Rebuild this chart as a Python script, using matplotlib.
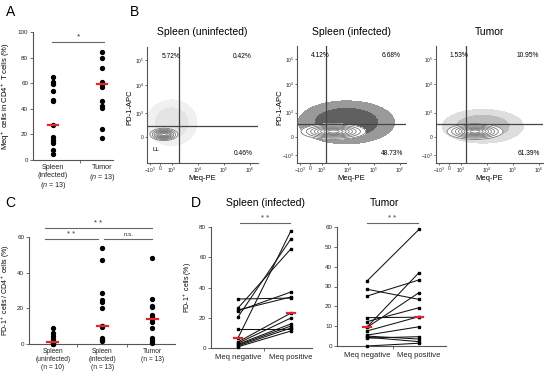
import numpy as np
import matplotlib
matplotlib.use("Agg")
import matplotlib.pyplot as plt

plt.rcParams['font.family'] = ['Liberation Sans', 'DejaVu Sans']
plt.rcParams['mathtext.fontset'] = 'custom'
plt.rcParams['mathtext.rm'] = 'Liberation Sans'
plt.rcParams['mathtext.it'] = 'Liberation Sans:italic'

# ---------------- data ----------------
a_labels = ["Spleen\n(infected)\n($\\it{n}$ = 13)", "Tumor\n($\\it{n}$ = 13)"]
a_spleen = [65, 61, 59, 54, 47, 46, 27, 18, 16, 15, 13, 8, 5]
a_tumor = [84, 80, 72, 61, 60, 59, 59, 57, 46, 42, 41, 24, 17]

flow_titles = ["Spleen (uninfected)", "Spleen (infected)", "Tumor"]
flow_ul = ["5.72%", "4.12%", "1.53%"]
flow_ur = ["0.42%", "6.68%", "10.95%"]
flow_lr = ["0.46%", "48.73%", "61.39%"]
flow_xticklabels = ["$-10^3$", "0", "$10^3$", "$10^4$", "$10^5$", "$10^6$"]
flow_yticklabels = ["$-10^3$", "0", "$10^3$", "$10^4$", "$10^5$"]

c_labels = ["Spleen\n(uninfected)\n(n = 10)", "Spleen\n(infected)\n(n = 13)", "Tumor\n(n = 13)"]
c_uninf = [9, 6, 4.5, 3, 1.2, 1.0, 0.6, 0.4, 0.2, 0]
c_inf = [54, 47, 28.6, 24.7, 23.5, 20.2, 10.3, 10, 9.5, 3.4, 2.5, 2, 1.7]
c_tum = [48, 25.2, 21.5, 20.9, 16.3, 15, 14, 12.5, 8.8, 3.3, 2.2, 1.3, 0.4]

d_labels = ["Meq negative", "Meq positive"]
d_spl_neg = [32.4, 26.4, 25.1, 24.5, 20.5, 12.6, 6.6, 4.0, 3.2, 2.5, 2.0, 1.4, 0.8]
d_spl_pos = [33.0, 65.5, 33.7, 37.0, 72.1, 12.6, 77.4, 23.1, 19.8, 15.9, 14.5, 13.2, 11.2]
d_tum_neg = [32.8, 28.6, 25.2, 14.3, 12.3, 9.6, 9.4, 7.6, 5.5, 5.0, 4.4, 4.0, 0.0]
d_tum_pos = [58.8, 23.5, 33.3, 14.5, 19.3, 37.0, 26.9, 14.8, 9.7, 3.5, 2.2, 4.7, 1.4]

RED = '#e3262b'
SP = '#555555'

W, H = 550, 380
fig = plt.figure(figsize=(5.5, 3.8), dpi=100)


def ax_px(l, r, t, b):
    return fig.add_axes([l / W, 1 - b / H, (r - l) / W, (b - t) / H])


def ftext(x, y, s, **kw):
    fig.text(x / W, 1 - y / H, s, **kw)


def style(ax):
    for s in ['top', 'right']:
        ax.spines[s].set_visible(False)
    for s in ['left', 'bottom']:
        ax.spines[s].set_color(SP)
        ax.spines[s].set_linewidth(0.8)
    ax.tick_params(colors='#222', labelsize=4.5, length=2, width=0.6, color=SP, pad=1.5)


def sig(ax, x0, x1, y, txt, ty, fs=5.5):
    ax.plot([x0, x1], [y, y], color='#666', lw=0.8, clip_on=False)
    ax.text((x0 + x1) / 2, ty, txt, ha='center', va='center', fontsize=fs, color='#333')


# ---------------- panel letters ----------------
ftext(6, 12, "A", fontsize=10, va='center')
ftext(130, 12, "B", fontsize=10, va='center')
ftext(5, 203, "C", fontsize=10, va='center')
ftext(191, 203, "D", fontsize=10, va='center')

# ---------------- panel A ----------------
axA = ax_px(33, 113, 32, 160)
style(axA)
for i, vals in enumerate([a_spleen, a_tumor]):
    axA.plot(np.full(len(vals), i), vals, 'o', color='k', ms=2.8, zorder=3)
    m = np.median(vals)
    axA.plot([i - 0.1, i + 0.1], [m, m], color=RED, lw=1.6, zorder=4)
axA.set_ylim(0, 100)
axA.set_xlim(-0.41, 1.22)
axA.set_yticks([0, 20, 40, 60, 80, 100])
axA.set_xticks([0, 1])
axA.set_xticklabels(a_labels, fontsize=5.2, linespacing=1.15)
axA.tick_params(axis='x', length=0, pad=3)
axA.set_xticks([0.55], minor=True)
axA.tick_params(axis='x', which='minor', length=2, color=SP)
axA.set_ylabel("Meq$^+$ cells in CD4$^+$ T cells (%)", fontsize=5.5, labelpad=4)
sig(axA, -0.02, 1.04, 92, "*", 96.5, fs=6)

# ---------------- panel B (flow) ----------------
flow_boxes = [(147, 258, 47, 163), (297, 406, 46, 163), (436, 543, 46, 163)]
flow_qx = [0.73, 0.62, 0.65]
flow_qy = [0.42, 0.5, 0.5]
# density shape parameters: centre x, centre y, spread x, spread y
flow_core = [(0.15, 0.1, 0.25, 0.11), (0.9, 0.2, 0.58, 0.14), (1.0, 0.2, 0.5, 0.14)]
flow_cloud = [(0.45, 0.55, 0.5, 0.45), (1.4, 0.55, 0.95, 0.42), (1.3, 0.4, 0.8, 0.33)]
flow_cloud_col = [('#f0f0f0', '#e4e4e4'), ('#9a9a9a', '#606060'), ('#dedede', '#bdbdbd')]
ylab_x = [130, 280, None]
xticks_pos = [-0.4, 0.0, 0.46, 1.46, 2.46, 3.46]
yticks_pos = [-0.7, 0.0, 0.92, 2.0, 2.96]

for k in range(3):
    l, r, t, b = flow_boxes[k]
    ax = ax_px(l, r, t, b)
    style(ax)
    xmax = -0.5 + (r - l) / 26.0
    ax.set_xlim(-0.5, xmax)
    ax.set_ylim(-1.0, 3.46)
    gx, gy = np.meshgrid(np.linspace(-0.5, xmax, 300), np.linspace(-1.0, 3.46, 300))
    cx, cy, sx, sy = flow_cloud[k]
    cloud = np.exp(-(((gx - cx) / sx) ** 2 + ((gy - cy) / sy) ** 2) / 2)
    c1, c2 = flow_cloud_col[k]
    ax.contourf(gx, gy, cloud, levels=[0.15, 0.45, 1.01], colors=[c1, c2], zorder=1)
    cx, cy, sx, sy = flow_core[k]
    core = np.exp(-(((gx - cx) / sx) ** 2 + ((gy - cy) / sy) ** 2) / 2)
    ax.contourf(gx, gy, core, levels=[0.1, 1.01], colors=['white'], zorder=2)
    ax.contour(gx, gy, core, levels=[0.1, 0.2, 0.32, 0.45, 0.58, 0.7, 0.82, 0.93],
               colors='#6a6a6a', linewidths=0.55, zorder=3)
    ax.axvline(flow_qx[k], color='#444', lw=0.9, zorder=4)
    ax.axhline(flow_qy[k], color='#444', lw=0.9, zorder=4)
    ax.set_xticks(xticks_pos)
    ax.set_xticklabels(flow_xticklabels, fontsize=3.5)
    if k == 0:
        ax.set_yticks(yticks_pos[1:])
        ax.set_yticklabels(flow_yticklabels[1:], fontsize=3.5)
    else:
        ax.set_yticks(yticks_pos)
        ax.set_yticklabels(flow_yticklabels, fontsize=3.5)
    ax.tick_params(length=1.5, pad=0.8)
    ax.text(0.13, 0.92, flow_ul[k], transform=ax.transAxes, fontsize=4.8, va='center', ha='left', zorder=5)
    ax.text(0.86, 0.92, flow_ur[k], transform=ax.transAxes, fontsize=4.8, va='center', ha='center', zorder=5)
    ax.text(0.87, 0.08, flow_lr[k], transform=ax.transAxes, fontsize=4.8, va='center', ha='center', zorder=5)
    if k == 0:
        ax.text(0.05, 0.12, "LL", transform=ax.transAxes, fontsize=4.5, va='center', ha='left', zorder=5)
    ftext((l + r) / 2, 32, flow_titles[k], fontsize=7.5, ha='center', va='center')
    ftext((l + r) / 2, 179, "Meq-PE", fontsize=5.5, ha='center', va='center')
    if ylab_x[k] is not None:
        ftext(ylab_x[k], 107, "PD-1-APC", fontsize=5.5, ha='center', va='center', rotation=90)

# ---------------- panel C ----------------
axC = ax_px(29, 175, 237, 344)
style(axC)
for i, vals in enumerate([c_uninf, c_inf, c_tum]):
    axC.plot(np.full(len(vals), i), vals, 'o', color='k', ms=2.8, zorder=3, clip_on=False)
    m = np.median(vals)
    axC.plot([i - 0.11, i + 0.11], [m, m], color=RED, lw=1.6, zorder=4, clip_on=False)
axC.set_ylim(0, 60)
axC.set_xlim(-0.48, 2.46)
axC.set_yticks([0, 20, 40, 60])
axC.set_xticks([0, 1, 2])
axC.set_xticklabels(c_labels, fontsize=4.8, linespacing=1.2)
axC.tick_params(axis='x', length=0, pad=3)
axC.set_xticks([0.48, 1.5], minor=True)
axC.tick_params(axis='x', which='minor', length=2, color=SP)
axC.set_ylabel("PD-1$^+$ cells / CD4$^+$ cells (%)", fontsize=5.0, labelpad=4)
sig(axC, -0.16, 2.0, 65.2, "* *", 67.8)
sig(axC, -0.16, 0.91, 59.0, "* *", 61.5)
sig(axC, 1.04, 2.0, 59.0, "n.s.", 61.5, fs=4.5)

# ---------------- panel D ----------------
def paired(ax, neg, pos):
    for a, b in zip(neg, pos):
        ax.plot([0, 1], [a, b], color='#111', lw=0.75, zorder=2)
    ax.plot(np.zeros(len(neg)), neg, 's', color='k', ms=2.0, zorder=3, clip_on=False)
    ax.plot(np.ones(len(pos)), pos, 's', color='k', ms=2.0, zorder=3, clip_on=False)
    for i, vals in enumerate([neg, pos]):
        m = np.median(vals)
        ax.plot([i - 0.07, i + 0.07], [m, m], color=RED, lw=1.6, zorder=4, clip_on=False)


axD1 = ax_px(211, 312, 227, 348)
style(axD1)
paired(axD1, d_spl_neg, d_spl_pos)
axD1.set_ylim(0, 80)
axD1.set_xlim(-0.51, 1.4)
axD1.set_yticks([0, 20, 40, 60, 80])
axD1.set_xticks([0, 1])
axD1.set_xticklabels(d_labels, fontsize=5.5)
axD1.tick_params(axis='x', length=0, pad=4)
axD1.set_xticks([0.5], minor=True)
axD1.tick_params(axis='x', which='minor', length=2, color=SP)
axD1.set_ylabel("PD-1$^+$ cells (%)", fontsize=5.0, labelpad=4)
sig(axD1, 0.04, 0.98, 82.5, "* *", 85.5)
ftext(265, 203, "Spleen (infected)", fontsize=7.5, ha='center', va='center')

axD2 = ax_px(337, 446, 227, 346)
style(axD2)
paired(axD2, d_tum_neg, d_tum_pos)
axD2.set_ylim(0, 60)
axD2.set_xlim(-0.58, 1.52)
axD2.set_yticks([0, 10, 20, 30, 40, 50, 60])
axD2.set_xticks([0, 1])
axD2.set_xticklabels(d_labels, fontsize=5.5)
axD2.tick_params(axis='x', length=0, pad=4)
axD2.set_xticks([0.5], minor=True)
axD2.tick_params(axis='x', which='minor', length=2, color=SP)
sig(axD2, 0.0, 0.98, 62.0, "* *", 64.5)
ftext(385, 203, "Tumor", fontsize=7.5, ha='center', va='center')

fig.savefig("out.png", dpi=100)
